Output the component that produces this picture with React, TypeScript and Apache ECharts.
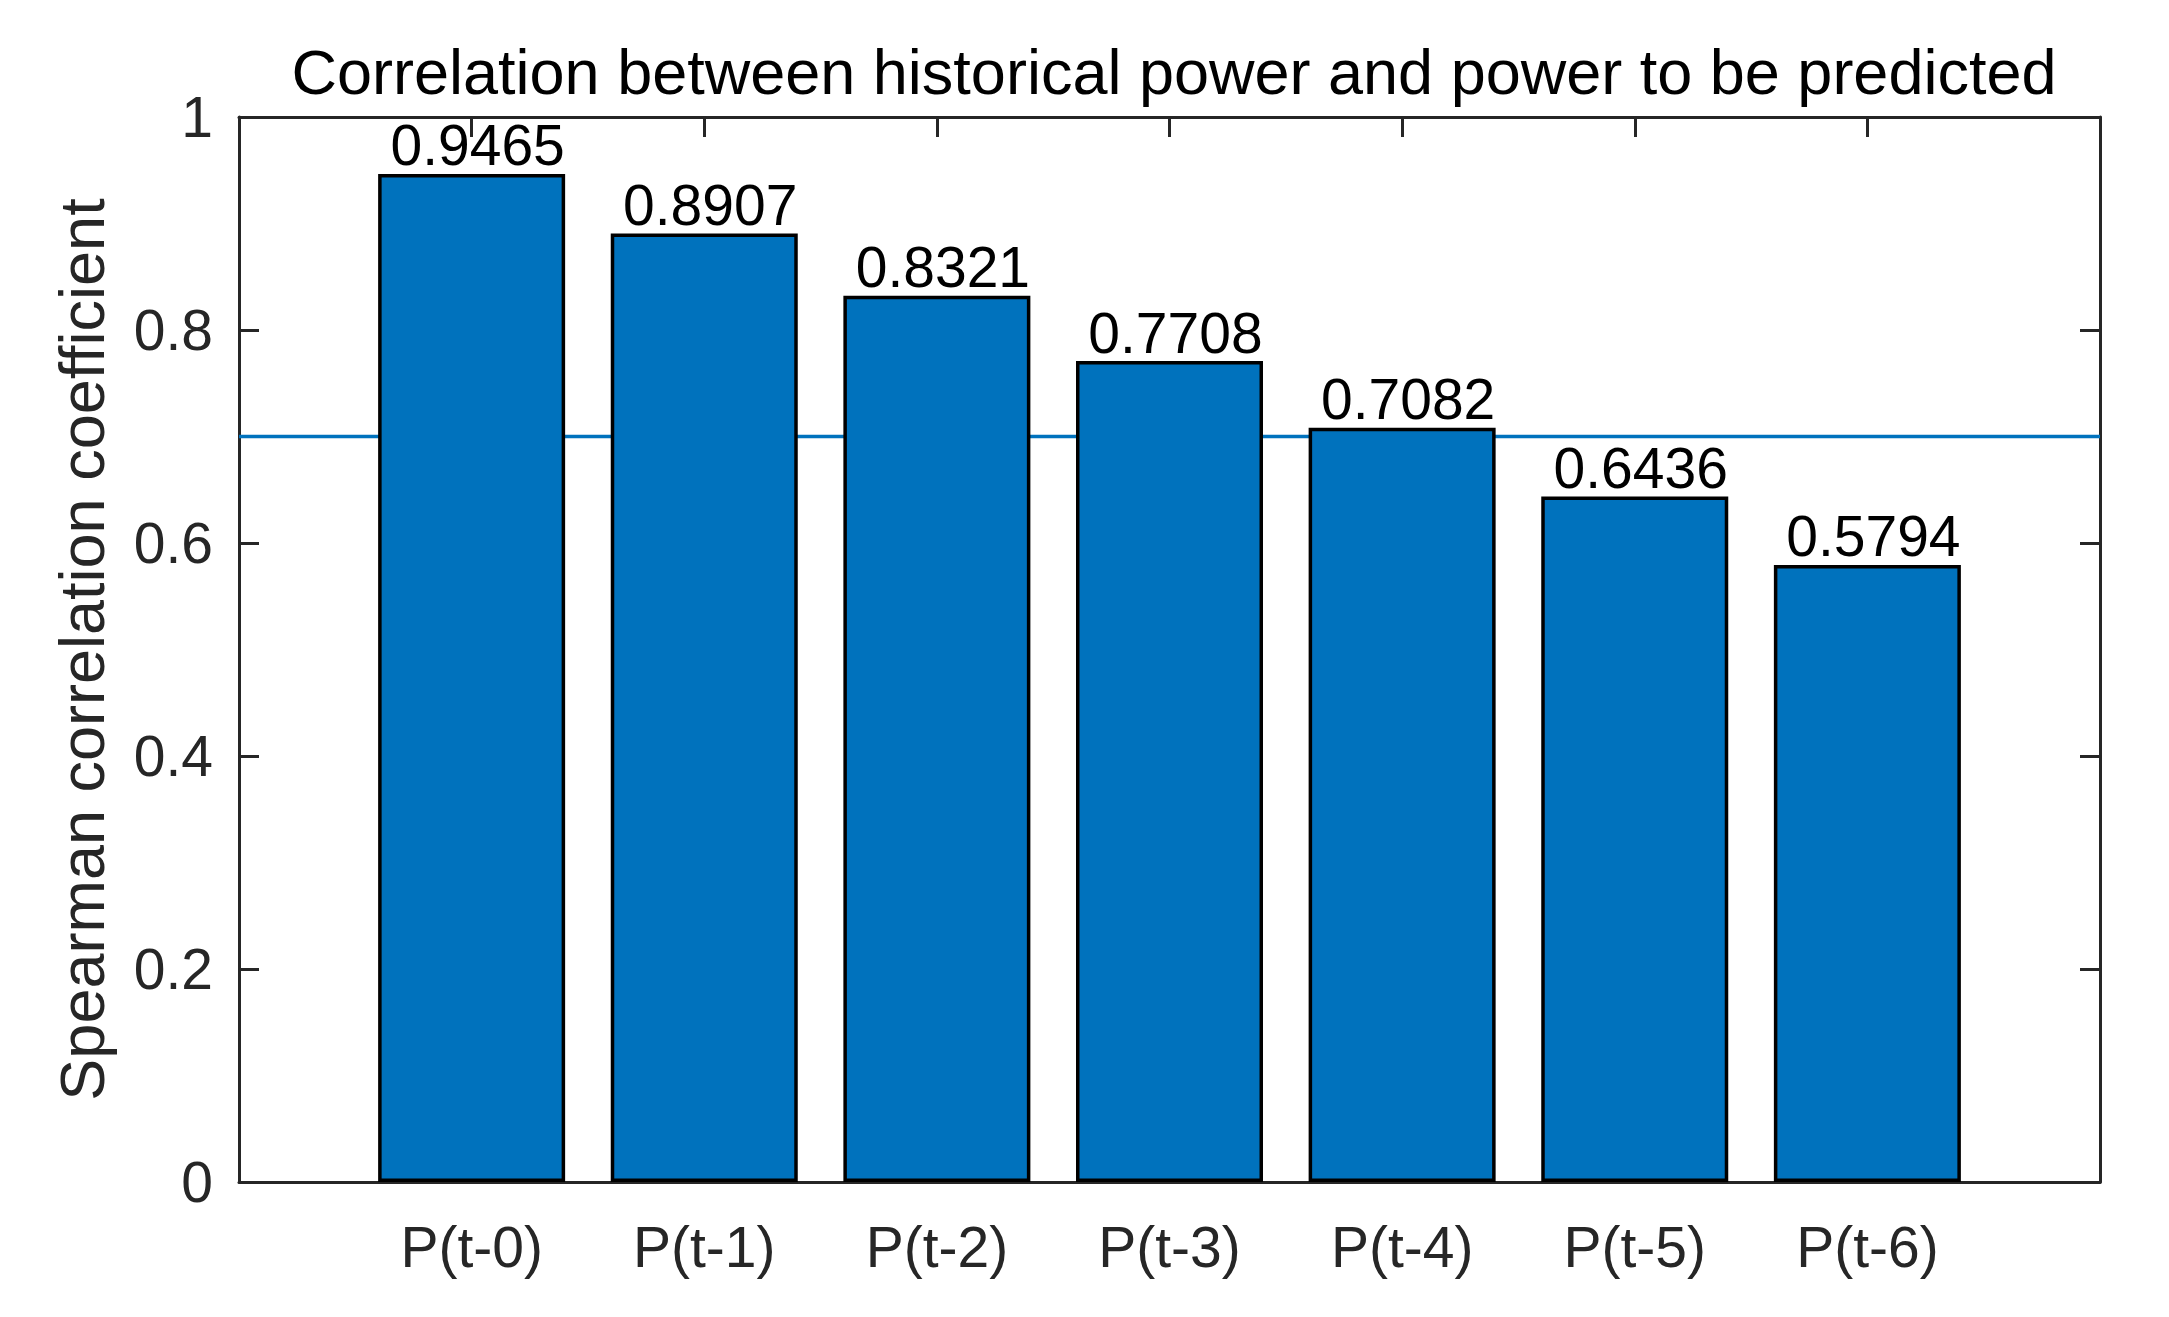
import React, { useEffect, useRef } from "react";
import * as echarts from "echarts";

const categories = ["P(t-0)", "P(t-1)", "P(t-2)", "P(t-3)", "P(t-4)", "P(t-5)", "P(t-6)"];
const values = [0.9465, 0.8907, 0.8321, 0.7708, 0.7082, 0.6436, 0.5794];
const threshold = 0.7;
const yTicks = [0, 0.2, 0.4, 0.6, 0.8, 1];
const titleText = "Correlation between historical power and power to be predicted";
const yName = "Spearman correlation coefficient";

const FONT = "Liberation Sans";
const AXIS_COLOR = "#262626";
const BLUE = "#0072BD";

export default function App() {
  const ref = useRef<HTMLDivElement>(null);
  useEffect(() => {
    if (!ref.current) return;
    const chart = echarts.init(ref.current, null, { renderer: "svg" });
    const axisLine = { show: true, onZero: false, lineStyle: { color: AXIS_COLOR, width: 3 } };
    const axisTick = { show: true, inside: true, length: 20, lineStyle: { color: AXIS_COLOR, width: 3 } };
    chart.setOption({
      animation: false,
      backgroundColor: "#ffffff",
      title: {
        text: titleText,
        left: 1169,
        textAlign: "center",
        top: 35,
        textStyle: { fontFamily: FONT, fontSize: 63, fontWeight: "normal", color: "#000" },
      },
      grid: { left: 239, right: 69, top: 117, bottom: 135, containLabel: false },
      xAxis: [
        {
          type: "value",
          position: "bottom",
          min: 0,
          max: 8,
          interval: 1,
          axisLine,
          axisTick,
          splitLine: { show: false },
          axisLabel: {
            margin: 36,
            fontFamily: FONT,
            fontSize: 57,
            color: AXIS_COLOR,
            formatter: (v: number) => categories[Math.round(v) - 1] ?? "",
          },
        },
        {
          type: "value",
          position: "top",
          min: 0,
          max: 8,
          interval: 1,
          axisLine,
          axisTick,
          splitLine: { show: false },
          axisLabel: { show: false },
        },
      ],
      yAxis: [
        {
          type: "value",
          position: "left",
          min: yTicks[0],
          max: yTicks[yTicks.length - 1],
          interval: 0.2,
          axisLine,
          axisTick,
          splitLine: { show: false },
          axisLabel: { margin: 26, fontFamily: FONT, fontSize: 57, color: AXIS_COLOR },
          name: yName,
          nameLocation: "middle",
          nameGap: 126,
          nameTextStyle: { fontFamily: FONT, fontSize: 63, color: AXIS_COLOR },
        },
        {
          type: "value",
          position: "right",
          min: yTicks[0],
          max: yTicks[yTicks.length - 1],
          interval: 0.2,
          axisLine,
          axisTick,
          splitLine: { show: false },
          axisLabel: { show: false },
        },
      ],
      series: [
        {
          type: "line",
          z: 1,
          data: [
            [0, threshold],
            [8, threshold],
          ],
          symbol: "none",
          lineStyle: { color: BLUE, width: 3.5 },
          silent: true,
        },
        {
          type: "bar",
          z: 2,
          barWidth: 187,
          data: values.map((v, i) => [i + 1, v]),
          itemStyle: { color: BLUE, borderColor: "#000", borderWidth: 3.5 },
          label: {
            show: true,
            position: "top",
            distance: 0,
            offset: [6, 0],
            fontFamily: FONT,
            fontSize: 57,
            color: "#000",
            formatter: (p: any) => p.value[1].toFixed(4),
          },
        },
      ],
    });
    return () => chart.dispose();
  }, []);
  return (
    <div
      ref={ref}
      style={{ position: "fixed", left: 0, top: 0, width: 2169, height: 1317, background: "#fff" }}
    />
  );
}
